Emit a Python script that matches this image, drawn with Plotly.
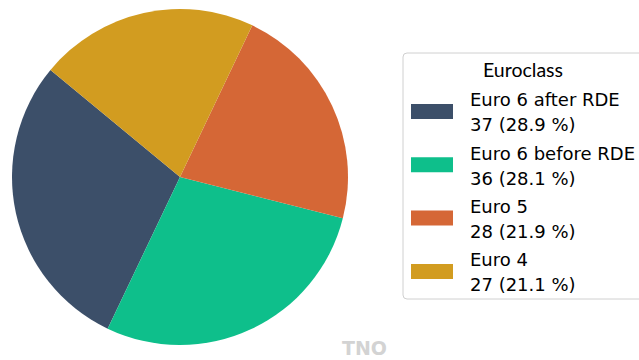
import plotly.graph_objects as go

# Vehicle counts per Euro class
categories = ["Euro 6 after RDE", "Euro 6 before RDE", "Euro 5", "Euro 4"]
counts = [37, 36, 28, 27]
colors = ["#3c4f69", "#0ebf8b", "#d56736", "#d29c20"]
legend_title = "Euroclass"

W, H = 639, 360


def px(x):
    return x / W


def py(y):
    return 1 - y / H


total = sum(counts)

fig = go.Figure()
fig.add_trace(go.Pie(
    labels=categories,
    values=counts,
    marker=dict(colors=colors, line=dict(width=0)),
    sort=False,
    direction="counterclockwise",
    rotation=-154.5,
    textinfo="none",
    showlegend=False,
    domain=dict(x=[px(12), px(348)], y=[py(345), py(9)]),
))

shapes = []
annotations = []

# legend frame (rounded left corners, running off the right edge)
x0, y0, x1, y1, r = 403, 53, 660, 299, 4
path = (f"M {px(x1)},{py(y0)} L {px(x0 + r)},{py(y0)} "
        f"Q {px(x0)},{py(y0)} {px(x0)},{py(y0 + r)} "
        f"L {px(x0)},{py(y1 - r)} Q {px(x0)},{py(y1)} {px(x0 + r)},{py(y1)} "
        f"L {px(x1)},{py(y1)}")
shapes.append(dict(type="path", xref="paper", yref="paper", path=path,
                   line=dict(color="#d0d0d0", width=1), fillcolor="white", layer="below"))

annotations.append(dict(x=px(522.5), y=py(69), xref="paper", yref="paper",
                        text=legend_title, showarrow=False, xanchor="center", yanchor="middle",
                        font=dict(family="Lato", size=19.5, color="black")))

step = 53.3
for i, (lab, val, col) in enumerate(zip(categories, counts, colors)):
    top = 104 + step * i
    shapes.append(dict(type="rect", xref="paper", yref="paper",
                       x0=px(411), x1=px(453), y0=py(top), y1=py(top + 15),
                       fillcolor=col, line=dict(width=0)))
    pct = 100 * val / total
    for j, txt in enumerate([lab, f"{val} ({pct:.1f} %)"]):
        annotations.append(dict(x=px(468), y=py(99.8 + step * i + 25 * j), xref="paper", yref="paper",
                                text=txt, showarrow=False, xanchor="left", yanchor="middle",
                                font=dict(family="DejaVu Sans", size=18, color="black")))

annotations.append(dict(x=px(364.5), y=py(347.5), xref="paper", yref="paper",
                        text="<b>TNO</b>", showarrow=False, xanchor="center", yanchor="middle",
                        font=dict(family="DejaVu Sans", size=19, color="#d3d3d3")))

fig.update_layout(
    width=W, height=H,
    margin=dict(l=0, r=0, t=0, b=0),
    paper_bgcolor="white",
    plot_bgcolor="white",
    shapes=shapes,
    annotations=annotations,
)

fig.write_html("out.html")
